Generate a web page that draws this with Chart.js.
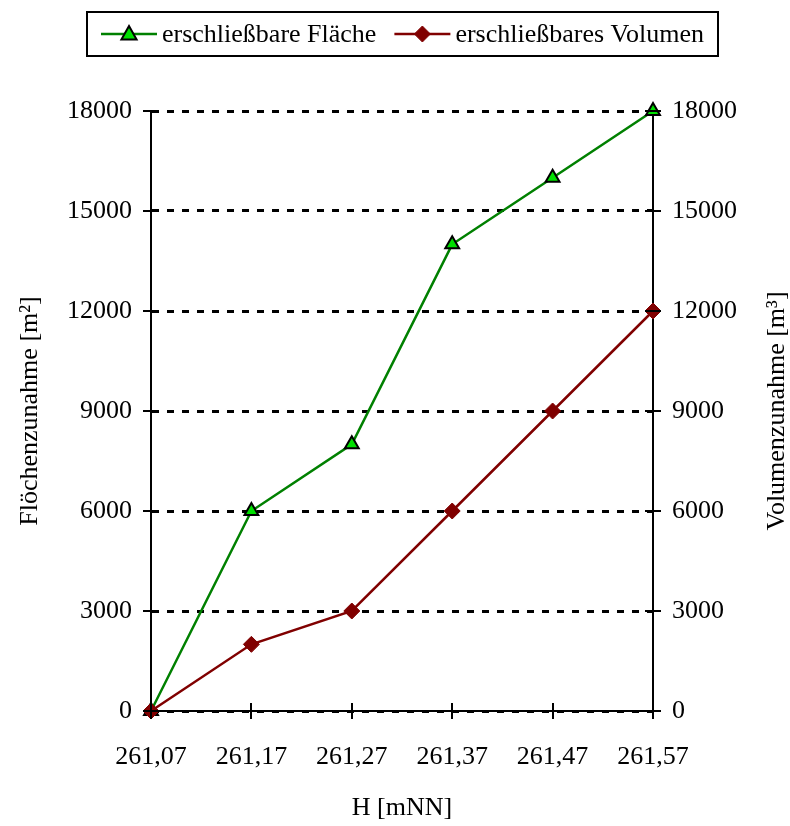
<!DOCTYPE html>
<html>
<head>
<meta charset="utf-8">
<script src="https://cdn.jsdelivr.net/npm/chart.js@4/dist/chart.umd.min.js"></script>
<style>
html,body{margin:0;padding:0;background:#fff;}
#wrap{width:790px;height:826px;position:relative;}
</style>
</head>
<body>
<div id="wrap"><canvas id="c" width="790" height="826"></canvas></div>
<script>
const categories = ["261,07", "261,17", "261,27", "261,37", "261,47", "261,57"];
const flaeche = [0, 6000, 8000, 14000, 16000, 18000];
const volumen = [0, 2000, 3000, 6000, 9000, 12000];
const flaecheLabel = "erschließbare Fläche";
const volumenLabel = "erschließbares Volumen";
const leftTitle = "Flöchenzunahme [m²]";
const rightTitle = "Volumenzunahme [m³]";
const xTitle = "H [mNN]";

const FONT = "'Liberation Serif', 'Times New Roman', serif";

const tickCross = {
  id: 'tickCross',
  afterDraw(chart) {
    const ctx = chart.ctx;
    ctx.save();
    ctx.strokeStyle = '#000';
    ctx.lineWidth = 2;
    const ca = chart.chartArea;
    ['y', 'y2'].forEach(id => {
      const s = chart.scales[id];
      const x = id === 'y' ? ca.left : ca.right;
      s.ticks.forEach((t, i) => {
        const py = Math.round(s.getPixelForTick(i));
        ctx.beginPath();
        ctx.moveTo(x - 8, py);
        ctx.lineTo(x + 8, py);
        ctx.stroke();
      });
    });
    const sx = chart.scales.x;
    sx.ticks.forEach((t, i) => {
      const px = Math.round(sx.getPixelForTick(i));
      ctx.beginPath();
      ctx.moveTo(px, ca.bottom - 8);
      ctx.lineTo(px, ca.bottom + 8);
      ctx.stroke();
    });
    // right axis title, reading bottom-to-top
    ctx.fillStyle = '#000';
    ctx.font = '26px ' + FONT;
    ctx.textAlign = 'center';
    ctx.textBaseline = 'middle';
    ctx.translate(777, (ca.top + ca.bottom) / 2);
    ctx.rotate(-Math.PI / 2);
    ctx.fillText(rightTitle, 0, 0);
    ctx.restore();
  }
};

function drawMarker(ctx, style, px, cy, r) {
  ctx.beginPath();
  if (style === 'triangle') {
    ctx.moveTo(px, cy - r);
    ctx.lineTo(px + r * 0.95, cy + r * 0.7);
    ctx.lineTo(px - r * 0.95, cy + r * 0.7);
  } else {
    ctx.moveTo(px, cy - r);
    ctx.lineTo(px + r, cy);
    ctx.lineTo(px, cy + r);
    ctx.lineTo(px - r, cy);
  }
  ctx.closePath();
  ctx.fill();
  ctx.stroke();
}

const boxLegend = {
  id: 'boxLegend',
  afterDraw(chart) {
    const ctx = chart.ctx;
    ctx.save();
    const x0 = 87, y0 = 12, x1 = 718, y1 = 56;
    ctx.strokeStyle = '#000';
    ctx.lineWidth = 2;
    ctx.strokeRect(x0, y0, x1 - x0, y1 - y0);
    ctx.font = '26px ' + FONT;
    ctx.textBaseline = 'middle';
    ctx.fillStyle = '#000';
    const cy = 34;
    const ds = chart.data.datasets;
    const lineW = 56, gap = 5, itemGap = 18;
    const widths = ds.map(d => lineW + gap + ctx.measureText(d.label).width);
    const total = widths.reduce((a, b) => a + b, 0) + itemGap * (ds.length - 1);
    let x = (x0 + x1) / 2 - total / 2;
    ds.forEach((d, i) => {
      ctx.strokeStyle = d.borderColor;
      ctx.lineWidth = 2.5;
      ctx.beginPath();
      ctx.moveTo(x, cy);
      ctx.lineTo(x + lineW, cy);
      ctx.stroke();
      ctx.fillStyle = d.pointBackgroundColor;
      ctx.strokeStyle = d.pointBorderColor;
      ctx.lineWidth = d.pointBorderWidth;
      drawMarker(ctx, d.pointStyle, x + lineW / 2, cy, d.pointRadius);
      ctx.fillStyle = '#000';
      ctx.fillText(d.label, x + lineW + gap, cy + 1);
      x += widths[i] + itemGap;
    });
    ctx.restore();
  }
};

new Chart(document.getElementById('c'), {
  type: 'line',
  data: {
    labels: categories,
    datasets: [
      {
        label: flaecheLabel,
        data: flaeche,
        yAxisID: 'y',
        order: 1,
        clip: false,
        borderColor: '#008000',
        borderWidth: 2.5,
        pointStyle: 'triangle',
        pointRadius: 8,
        pointBackgroundColor: '#00e000',
        pointBorderColor: '#000',
        pointBorderWidth: 2,
        tension: 0
      },
      {
        label: volumenLabel,
        data: volumen,
        yAxisID: 'y2',
        order: 0,
        clip: false,
        borderColor: '#800000',
        borderWidth: 2.5,
        pointStyle: 'rectRot',
        pointRadius: 8,
        pointBackgroundColor: '#800000',
        pointBorderColor: '#800000',
        pointBorderWidth: 1,
        tension: 0
      }
    ]
  },
  options: {
    responsive: false,
    animation: false,
    devicePixelRatio: 1,
    layout: { padding: { top: 111, left: 0, right: 0, bottom: 0 } },
    plugins: { legend: { display: false }, tooltip: { enabled: false } },
    scales: {
      x: {
        offset: false,
        grid: { display: false, drawTicks: false },
        border: { display: true, color: '#000', width: 2 },
        ticks: { color: '#000', font: { family: FONT, size: 26 }, padding: 31, maxRotation: 0 },
        title: { display: true, text: xTitle, color: '#000', font: { family: FONT, size: 26, lineHeight: 1 }, padding: { top: 0, bottom: 5 } },
        afterFit(s) { s.height = 115; }
      },
      y: {
        position: 'left',
        min: 0, max: 18000,
        ticks: { stepSize: 3000, color: '#000', font: { family: FONT, size: 26 }, padding: 19, callback: v => String(v) },
        grid: { color: '#000', lineWidth: 3, drawTicks: false, drawOnChartArea: true },
        border: { display: true, color: '#000', width: 2, dash: [7, 8] },
        title: { display: true, text: leftTitle, color: '#000', font: { family: FONT, size: 26, lineHeight: 1 }, padding: { top: 17, bottom: 0 } },
        afterFit(s) { s.width = 151; }
      },
      y2: {
        position: 'right',
        min: 0, max: 18000,
        ticks: { stepSize: 3000, color: '#000', font: { family: FONT, size: 26 }, padding: 19, callback: v => String(v) },
        grid: { display: false, drawTicks: false },
        border: { display: true, color: '#000', width: 2 },
        title: { display: false },
        afterFit(s) { s.width = 137; }
      }
    }
  },
  plugins: [tickCross, boxLegend]
});
</script>
</body>
</html>
